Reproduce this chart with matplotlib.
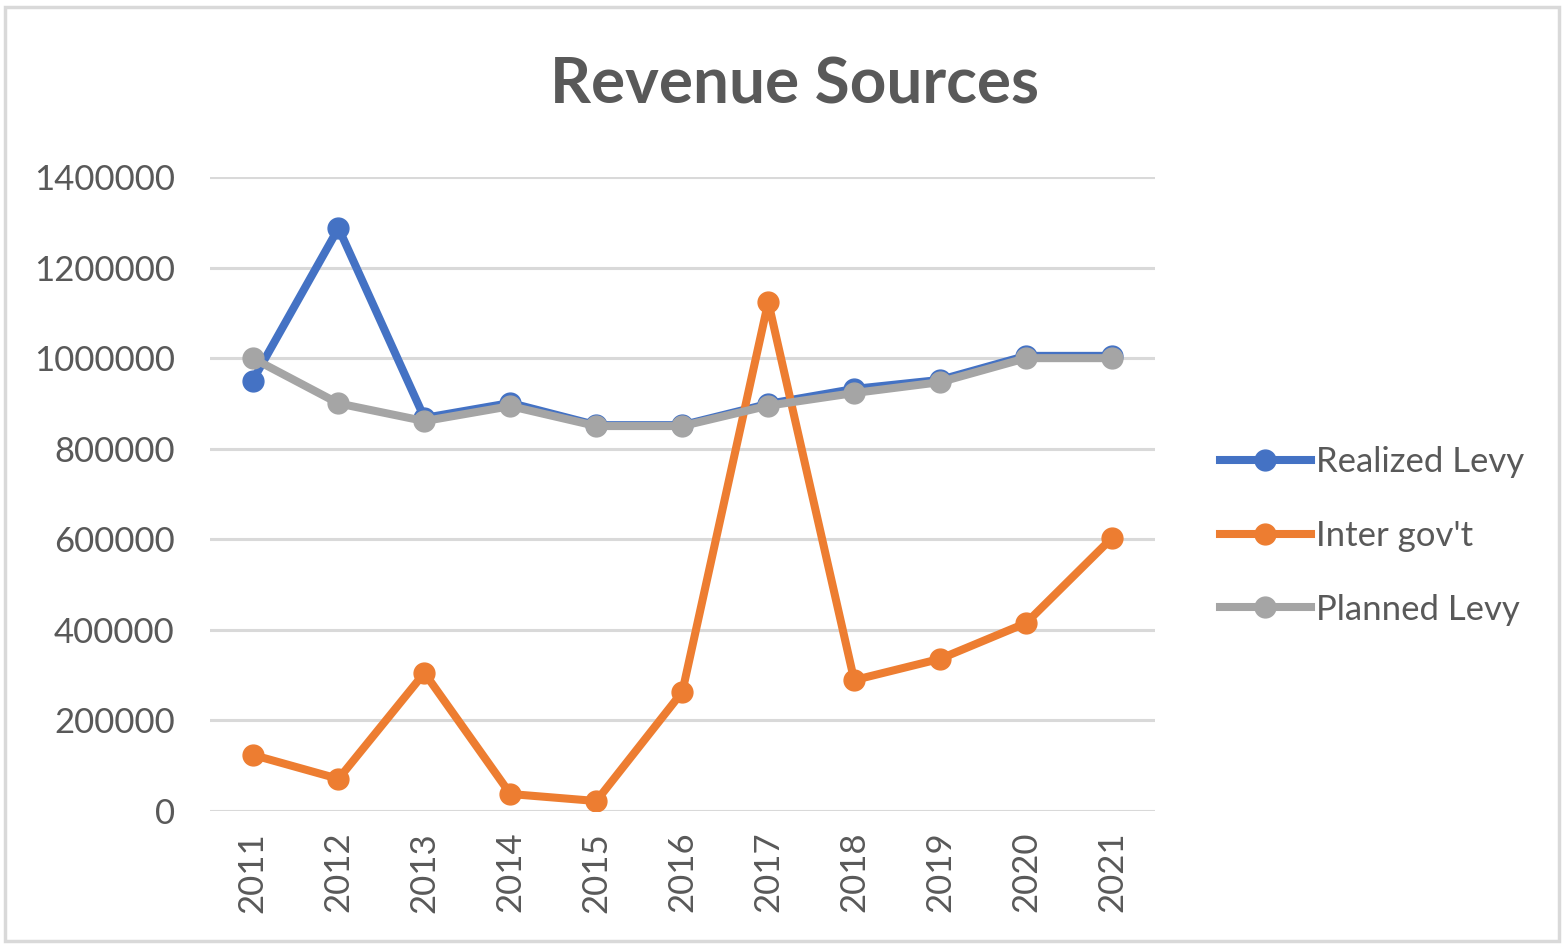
import matplotlib
matplotlib.use('Agg')
import matplotlib.pyplot as plt
import numpy as np

years = ["2011", "2012", "2013", "2014", "2015", "2016", "2017", "2018", "2019", "2020", "2021"]
realized_levy = [950000, 1287000, 868000, 901000, 852000, 852000, 899000, 932000, 952000, 1005000, 1005000]
inter_govt = [124000, 71000, 305000, 37500, 22000, 263000, 1124000, 289000, 336000, 415000, 603000]
planned_levy = [1000000, 900000, 861000, 894000, 850000, 850000, 895000, 923000, 947000, 1000000, 1000000]
yticks = [0, 200000, 400000, 600000, 800000, 1000000, 1200000, 1400000]

plt.rcParams['font.family'] = ['Lato', 'DejaVu Sans']
txt = '#595959'

fig = plt.figure(figsize=(15.64, 9.44), dpi=100)
ax = fig.add_axes([0.134, 0.1409, 0.6045, 0.6716])

x = np.arange(len(years))
ax.plot(x, realized_levy, '-o', color='#4472C4', lw=5.8, ms=15, label='Realized Levy', zorder=3)
ax.plot(x, inter_govt, '-o', color='#ED7D31', lw=5.8, ms=15, label="Inter gov't", zorder=4)
ax.plot(x, planned_levy, '-o', color='#A5A5A5', lw=5.8, ms=15, label='Planned Levy', zorder=5)

ax.set_xlim(-0.5, len(years) - 0.5)
ax.set_ylim(0, 1400000)
ax.set_yticks(yticks)
ax.set_yticklabels([str(v) for v in yticks])
ax.set_xticks(x)
ax.set_xticklabels(years, rotation=90)
ax.tick_params(axis='both', length=0, labelsize=25, colors=txt)
ax.tick_params(axis='y', pad=25)
ax.tick_params(axis='x', pad=15)
ax.yaxis.grid(True, color='#D9D9D9', lw=2.2)
ax.set_axisbelow(True)
for s in ax.spines.values():
    s.set_visible(False)

fig.text(0.5077, 0.91, "Revenue Sources", ha='center', va='center',
         fontsize=46, fontweight='bold', color=txt)

leg = ax.legend(loc='center left', bbox_to_anchor=(1.036, 0.434), frameon=False,
                fontsize=25, handlelength=2.6, handletextpad=0.15, labelspacing=1.2,
                labelcolor=txt)

# outer chart border
fig.add_artist(plt.Rectangle((0.003, 0.003), 0.994, 0.99, transform=fig.transFigure,
                             fill=False, edgecolor='#D9D9D9', lw=2.5))

fig.savefig("out.png", dpi=100)
